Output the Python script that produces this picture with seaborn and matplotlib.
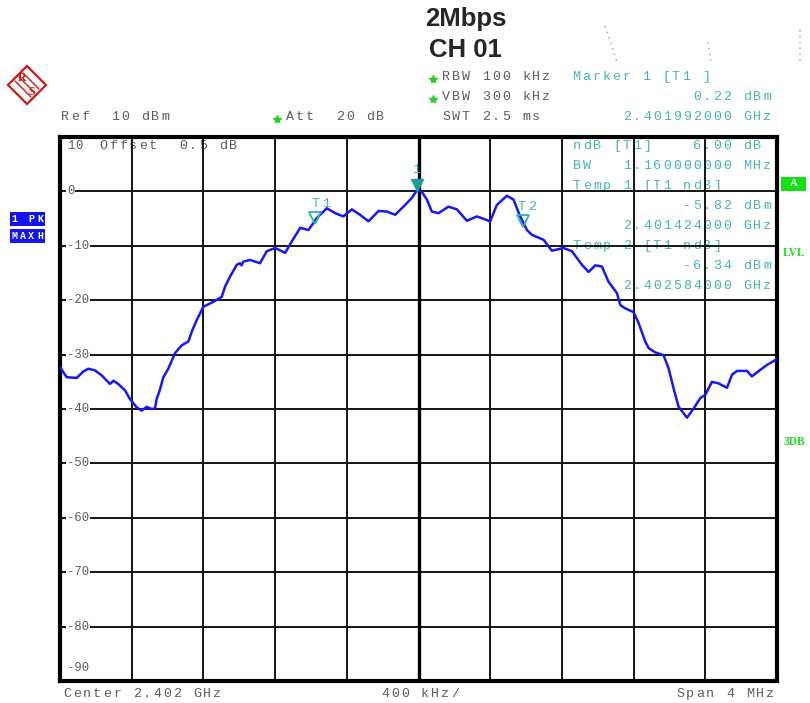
import numpy as np
import pandas as pd
import matplotlib
matplotlib.use("Agg")
import matplotlib.pyplot as plt
import matplotlib.transforms as mtransforms
from matplotlib.patches import Rectangle, Polygon
from matplotlib.lines import Line2D
import seaborn as sns

# ---------------- data ----------------
CENTER_GHZ = 2.402
SPAN_MHZ = 4.0
REF_DBM = 10
freq_offset_mhz = [-2.000, -1.963, -1.907, -1.870, -1.842, -1.805, -1.768, -1.721, -1.702, -1.675,
                   -1.637, -1.609, -1.572, -1.544, -1.517, -1.489, -1.470, -1.461, -1.442, -1.424,
                   -1.396, -1.358, -1.321, -1.284, -1.265, -1.238, -1.200, -1.145, -1.098, -1.079,
                   -1.052, -1.014, -0.996, -0.987, -0.977, -0.940, -0.884, -0.847, -0.800, -0.744,
                   -0.707, -0.660, -0.614, -0.567, -0.512, -0.465, -0.419, -0.372, -0.326, -0.279,
                   -0.223, -0.177, -0.130, -0.084, -0.037, -0.008, 0.019, 0.047, 0.074, 0.112,
                   0.167, 0.214, 0.270, 0.326, 0.400, 0.437, 0.493, 0.530, 0.567, 0.605,
                   0.633, 0.698, 0.744, 0.809, 0.856, 0.912, 0.949, 0.986, 1.023, 1.060,
                   1.107, 1.126, 1.153, 1.200, 1.228, 1.265, 1.284, 1.321, 1.367, 1.395,
                   1.423, 1.451, 1.498, 1.535, 1.572, 1.600, 1.637, 1.674, 1.721, 1.749,
                   1.777, 1.833, 1.860, 1.907, 1.944, 1.991, 2.000]
level_dbm = [-32.3, -34.15, -34.3, -33.1, -32.6, -32.9, -33.8, -35.4, -34.8, -35.4,
             -36.6, -38.2, -39.7, -40.3, -39.6, -40.0, -39.9, -38.2, -36.4, -34.2,
             -32.6, -29.7, -28.3, -27.6, -25.8, -23.7, -21.2, -20.3, -19.4, -17.5,
             -15.7, -13.5, -13.2, -13.6, -12.9, -12.6, -13.2, -11.0, -10.4, -11.3,
             -9.2, -6.7, -7.1, -4.9, -3.1, -4.0, -4.6, -3.3, -4.3, -5.5,
             -3.6, -3.7, -4.3, -2.8, -1.2, 0.22, -0.1, -1.5, -3.7, -4.0,
             -2.8, -3.3, -5.4, -4.6, -5.5, -2.5, -0.8, -1.5, -4.6, -7.1,
             -8.0, -8.9, -10.9, -10.4, -11.0, -13.5, -14.8, -13.6, -13.8, -16.6,
             -18.7, -20.9, -21.5, -22.2, -24.2, -27.6, -28.8, -29.6, -30.1, -32.5,
             -36.2, -39.6, -41.6, -39.9, -38.0, -37.4, -35.0, -35.3, -36.1, -33.7,
             -33.0, -33.0, -34.0, -32.8, -31.9, -31.0, -30.8]

marker_names = ["1", "T1", "T2"]
marker_freq_ghz = [2.401992, 2.401424, 2.402584]
marker_level_dbm = [0.22, -5.82, -6.34]
ytick_values = [0, -10, -20, -30, -40, -50, -60, -70, -80, -90]

# ---------------- figure ----------------
W, H = 810, 703
sns.set_style("white")
plt.rcParams['font.family'] = ['Liberation Mono', 'DejaVu Sans']

fig = plt.figure(figsize=(W / 100, H / 100), dpi=100)
fig.patch.set_facecolor("white")
ax = fig.add_axes([60 / W, 1 - 681 / H, 717 / W, 544 / H])
ax.patch.set_alpha(0.0)

df = pd.DataFrame({
    "freq_ghz": CENTER_GHZ + np.array(freq_offset_mhz) / 1000.0,
    "level": level_dbm,
})
sns.lineplot(data=df, x="freq_ghz", y="level", ax=ax, color="#1616ff",
             lw=1.8, estimator=None, sort=False, zorder=5)

half_span = SPAN_MHZ / 2 / 1000.0
ax.set_xlim(CENTER_GHZ - half_span, CENTER_GHZ + half_span)
ax.set_ylim(REF_DBM - 100, REF_DBM)
ax.set_xticks(np.linspace(CENTER_GHZ - half_span, CENTER_GHZ + half_span, 11))
ax.set_yticks(np.arange(REF_DBM - 100, REF_DBM + 1, 10))
ax.tick_params(length=0, labelbottom=False, labelleft=False)
ax.grid(True, color="#141414", lw=1.4, zorder=1)
ax.set_axisbelow(True)
ax.set_xlabel("")
ax.set_ylabel("")
for s in ax.spines.values():
    s.set_linewidth(3.0)
    s.set_color("black")
ax.axvline(CENTER_GHZ, color="black", lw=2.4, zorder=2)

GRAY = "#5c5c5c"
TEAL = "#45b4b4"
ytrans = mtransforms.blended_transform_factory(ax.transAxes, ax.transData)
for v in ytick_values:
    if v == -90:
        ax.text(7 / 717, v + 2.4, str(v), transform=ytrans, ha="left",
                va="center", fontsize=8.8, color=GRAY, zorder=3)
    else:
        ax.text(7 / 717, v, str(v), transform=ytrans, ha="left", va="center",
                fontsize=8.8, color=GRAY, zorder=3,
                bbox=dict(boxstyle="square,pad=0.08", fc="white", ec="none"))

# markers (triangle tip on the point)
tri = mtransforms.offset_copy(ax.transData, fig=fig, x=0, y=5, units="dots")
ax.plot([marker_freq_ghz[0]], [marker_level_dbm[0]], marker="v", ms=8.5,
        color="#1c9c9c", ls="none", transform=tri, zorder=6)
ax.plot(marker_freq_ghz[1:], marker_level_dbm[1:], marker="v", ms=8, mfc="none",
        mec="#2fb0b0", mew=1.3, ls="none", transform=tri, zorder=6)


def px(x, y):
    return x / W, 1 - y / H


def mono(x, y, s, color=GRAY, size=9.6, pitch=10.0, ha="left", weight="normal", z=10):
    if ha == "right":
        x = x - pitch * len(s)
    for i, c in enumerate(s):
        if c == " ":
            continue
        fig.text(*px(x + i * pitch + pitch / 2, y), c, ha="center", va="center",
                 fontsize=size, color=color, family="Liberation Mono", weight=weight,
                 zorder=z)


def star(x, y):
    fig.add_artist(Line2D([x / W], [1 - y / H], marker="*", ms=6, color="#22d022",
                          mec="#22d022", transform=fig.transFigure))


# marker labels
mono(411, 170, marker_names[0], TEAL)
mono(311, 204, marker_names[1], TEAL)
mono(517, 207, marker_names[2], TEAL)

# title
fig.text(*px(466, 19), "2Mbps", ha="center", va="center", fontsize=18.5,
         weight="bold", family="Liberation Sans")
fig.text(*px(465, 50), "CH 01", ha="center", va="center", fontsize=18.5,
         weight="bold", family="Liberation Sans")

# header
star(433, 79)
mono(441, 77, "RBW 100 kHz")
star(433, 99)
mono(441, 97, "VBW 300 kHz")
mono(441, 117, "SWT 2.5 ms")
mono(60, 117, "Ref  10 dBm")
star(277, 119)
mono(285, 117, "Att  20 dB")
mono(571, 77, "Marker 1 [T1 ]", TEAL)
mono(772, 97, "0.22 dBm", TEAL, ha="right")
mono(772, 117, "2.401992000 GHz", TEAL, ha="right")

# inside plot, top-left
mono(67, 146, "10", GRAY, size=8.8, pitch=8, z=-1)
mono(98, 146, "Offset  0.5 dB", z=-1)

# right-hand marker panel (drawn beneath the grid)
mono(572, 146, "ndB [T1]    6.00 dB", TEAL, z=-1)
mono(572, 166, "BW   1.160000000 MHz", TEAL, z=-1)
mono(572, 186, "Temp 1 [T1 ndB]", TEAL, z=-1)
mono(772, 206, "-5.82 dBm", TEAL, ha="right", z=-1)
mono(772, 226, "2.401424000 GHz", TEAL, ha="right", z=-1)
mono(572, 246, "Temp 2 [T1 ndB]", TEAL, z=-1)
mono(772, 266, "-6.34 dBm", TEAL, ha="right", z=-1)
mono(772, 286, "2.402584000 GHz", TEAL, ha="right", z=-1)

# bottom
mono(62, 694, "Center 2.402 GHz")
mono(380, 694, "400 kHz/")
mono(775, 694, "Span 4 MHz", ha="right")

# left trace boxes
for (y0, label) in [(212, "1 PK"), (229, "MAXH")]:
    fig.add_artist(Rectangle(px(10, y0 + 14), 35 / W, 14 / H, transform=fig.transFigure,
                             fc="#1414f0", ec="none"))
    mono(10, y0 + 7, label, "white", size=7.2, pitch=8.6, weight="bold")

# right side status
fig.add_artist(Rectangle(px(781, 191), 25 / W, 14 / H, transform=fig.transFigure,
                         fc="#14e014", ec="none"))
fig.text(*px(793.5, 184), "A", ha="center", va="center", fontsize=8, color="white",
         weight="bold", family="Liberation Serif")
fig.text(*px(783, 253), "LVL", ha="left", va="center", fontsize=8.3, color="#22dd22",
         weight="bold", family="Liberation Serif")
fig.text(*px(783, 442), "3DB", ha="left", va="center", fontsize=8.3, color="#22dd22",
         weight="bold", family="Liberation Serif")

# faint dotted artefacts at top right
for (x0, y0, x1, y1) in [(605, 26, 617, 62), (708, 42, 711, 64), (800, 30, 800, 64)]:
    fig.add_artist(Line2D([x0 / W, x1 / W], [1 - y0 / H, 1 - y1 / H], ls=(0, (1, 2.5)),
                          lw=1.2, color="#b8b8b8", transform=fig.transFigure))

# Rohde & Schwarz style logo
cx, cy, r = 27, 85, 19
RED = "#d01818"
outer = [px(cx, cy - r), px(cx + r, cy), px(cx, cy + r), px(cx - r, cy)]
fig.add_artist(Polygon(outer, closed=True, fc="white", ec=RED, lw=1.6,
                       transform=fig.transFigure))
for d in (-4, 0, 4):
    fig.add_artist(Line2D([(cx - 8 + d) / W, (cx + 8 + d) / W],
                          [1 - (cy - 8 - d) / H, 1 - (cy + 8 - d) / H],
                          color=RED, lw=1.0, transform=fig.transFigure))
fig.text(*px(cx - 5, cy - 7), "R", ha="center", va="center", fontsize=8.5, color=RED,
         weight="bold", family="Liberation Serif")
fig.text(*px(cx + 5, cy + 7), "S", ha="center", va="center", fontsize=8.5, color=RED,
         weight="bold", family="Liberation Serif")

fig.savefig("out.png", dpi=100, facecolor="white")
